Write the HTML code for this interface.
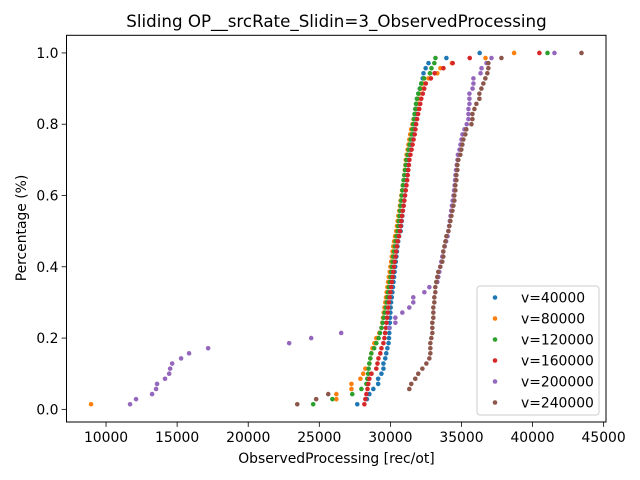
<!DOCTYPE html>
<html><head><meta charset="utf-8">
<style>
html,body{margin:0;padding:0;background:#fff;}
svg{display:block;font-family:"DejaVu Sans","Liberation Sans",sans-serif;}
</style></head>
<body>
<svg id="chart" width="640" height="480" viewBox="0 0 640 480" xmlns="http://www.w3.org/2000/svg">
<rect x="0" y="0" width="640" height="480" fill="#fff"/>
<text x="336.5" y="27" font-size="16.7" text-anchor="middle" fill="#000">Sliding OP__srcRate_Slidin=3_ObservedProcessing</text>
<g id="plot"></g>
<g id="axes"></g>
<g id="legend"></g>
<text x="336.5" y="463" font-size="13.9" text-anchor="middle" fill="#000">ObservedProcessing [rec/ot]</text>
<text transform="translate(26,228) rotate(-90)" font-size="13.9" text-anchor="middle" fill="#000">Percentage (%)</text>
</svg>
<script>
const seriesLabels = ["v=40000","v=80000","v=120000","v=160000","v=200000","v=240000"];
const seriesColors = ["#1f77b4","#ff7f0e","#2ca02c","#d62728","#9467bd","#8c564b"];
const xTicks = [10000,15000,20000,25000,30000,35000,40000,45000];
const yTicks = [0.0,0.2,0.4,0.6,0.8,1.0];
const yTickLabels = ["0.0","0.2","0.4","0.6","0.8","1.0"];

const v40000 = [27670,28350,28520,28800,29140,29140,29370,29510,29510,29640,29710,29790,29870,29900,29920,29940,29960,29980,30000,30020,30050,30100,30140,30180,30220,30260,30300,30340,30380,30420,30460,30500,30550,30610,30720,30760,30800,30840,30880,30930,30970,31010,31050,31090,31130,31180,31220,31260,31290,31360,31420,31480,31540,31600,31650,31700,31750,31810,31860,31910,31960,32010,32070,32170,32270,32330,32480,32680,33940,36280];
const v80000 = [8944,26200,26200,27260,27260,27890,28090,28240,28520,28590,28660,28740,28870,29010,29220,29370,29430,29480,29530,29580,29640,29690,29740,29790,29840,29890,29950,30000,30050,30100,30150,30200,30260,30330,30410,30460,30510,30560,30620,30670,30720,30770,30820,30870,30930,30970,31010,31050,31080,31140,31210,31270,31330,31390,31460,31550,31630,31710,31790,31880,31960,32040,32170,32320,32680,33300,33520,34330,36690,38700];
const v120000 = [24570,25920,27320,27960,28310,28380,28440,28470,28520,28590,28660,28860,29010,29170,29270,29380,29460,29530,29600,29680,29740,29790,29840,29890,29950,30000,30050,30100,30150,30200,30260,30310,30360,30430,30510,30550,30590,30640,30680,30720,30760,30800,30840,30880,30930,30980,31030,31080,31130,31210,31280,31350,31420,31500,31550,31600,31650,31700,31750,31800,31860,31960,32070,32170,32370,32780,32890,33090,33170,41050];
const v160000 = [28170,28240,28310,28390,28450,28520,28670,29010,29090,29160,29290,29370,29510,29580,29630,29690,29730,29770,29810,29850,29890,29950,30000,30050,30100,30150,30200,30250,30300,30360,30410,30460,30510,30600,30670,30720,30770,30820,30870,30930,30980,31030,31080,31130,31180,31220,31260,31300,31340,31410,31490,31560,31630,31710,31760,31810,31880,31950,32030,32100,32170,32280,32380,32490,32850,33110,33730,34380,35580,40480];
const v200000 = [11690,12110,13240,13520,13590,14150,14440,14510,14650,15280,15840,17180,22880,24430,26540,29920,30350,30350,30840,31330,31610,31610,32390,32740,33300,33370,33440,33510,33580,33650,33720,33820,33920,34020,34080,34130,34180,34230,34280,34330,34380,34440,34480,34520,34550,34580,34620,34670,34720,34750,34860,34930,35000,35070,35210,35370,35490,35490,35490,35560,35560,35560,35780,35840,35840,36340,36410,36760,37110,41540];
const v240000 = [23450,24780,25630,31330,31470,31750,31960,32250,32530,32740,32810,32810,32810,32880,32950,32950,32950,33020,33020,33020,33090,33090,33160,33160,33230,33300,33370,33510,33650,33720,33720,33800,33870,33940,34080,34150,34220,34290,34360,34430,34500,34500,34570,34570,34640,34640,34710,34710,34780,34920,34990,35060,35130,35270,35340,35700,35770,35770,35910,36050,36260,36260,36400,36540,36680,36820,36890,36890,37810,43440];
const seriesValues = [v40000,v80000,v120000,v160000,v200000,v240000];

const NS = "http://www.w3.org/2000/svg";
const AX = {left:66.5, right:606, top:35.3, bottom:422};
const X0 = 7219, X1 = 45165;
const Y0 = -0.0355, Y1 = 1.0495;
function xScale(v){ return AX.left + (v - X0) / (X1 - X0) * (AX.right - AX.left); }
function yScale(p){ return AX.bottom - (p - Y0) / (Y1 - Y0) * (AX.bottom - AX.top); }
function mk(tag, attrs, parent){
  const e = document.createElementNS(NS, tag);
  for (const k in attrs) e.setAttribute(k, attrs[k]);
  parent.appendChild(e);
  return e;
}

const plot = document.getElementById("plot");
seriesValues.forEach((vals, s) => {
  const g = mk("g", {}, plot);
  
  
  const sorted = vals.slice().sort((a,b)=>a-b);
  const n = sorted.length;
  sorted.forEach((v, i) => {
    const c = mk("circle", {cx:xScale(v), cy:yScale((i+1)/n), r:2.3, fill:seriesColors[s]}, g);
    
    
  });
});

const axes = document.getElementById("axes");
const frame = mk("rect", {x:AX.left, y:AX.top, width:AX.right-AX.left, height:AX.bottom-AX.top, fill:"none", stroke:"#000", "stroke-width":1}, axes);


xTicks.forEach(t => {
  const x = xScale(t);
  const tk = mk("line", {x1:x, x2:x, y1:AX.bottom, y2:AX.bottom+4.9, stroke:"#000", "stroke-width":0.8}, axes);
  
  
  const tx = mk("text", {x:x, y:AX.bottom+20, "font-size":13.9, "text-anchor":"middle", fill:"#000"}, axes);
  tx.textContent = String(t);
  
  
});
yTicks.forEach((t, i) => {
  const y = yScale(t);
  const tk = mk("line", {x1:AX.left-4.9, x2:AX.left, y1:y, y2:y, stroke:"#000", "stroke-width":0.8}, axes);
  
  
  const tx = mk("text", {x:AX.left-8, y:y+5, "font-size":13.9, "text-anchor":"end", fill:"#000"}, axes);
  tx.textContent = yTickLabels[i];
  
  
});

const legend = document.getElementById("legend");


const lb = mk("rect", {x:477, y:286, width:122, height:129, rx:3, fill:"#fff", "fill-opacity":0.8, stroke:"#ccc", "stroke-width":1}, legend);


seriesLabels.forEach((lab, i) => {
  const y = 297.5 + i * 21;
  const g = mk("g", {}, legend);
  
  
  mk("circle", {cx:495, cy:y, r:2.3, fill:seriesColors[i]}, g);
  const t = mk("text", {x:521, y:y+5, "font-size":13.9, fill:"#000"}, g);
  t.textContent = lab;
});
</script>
</body></html>
